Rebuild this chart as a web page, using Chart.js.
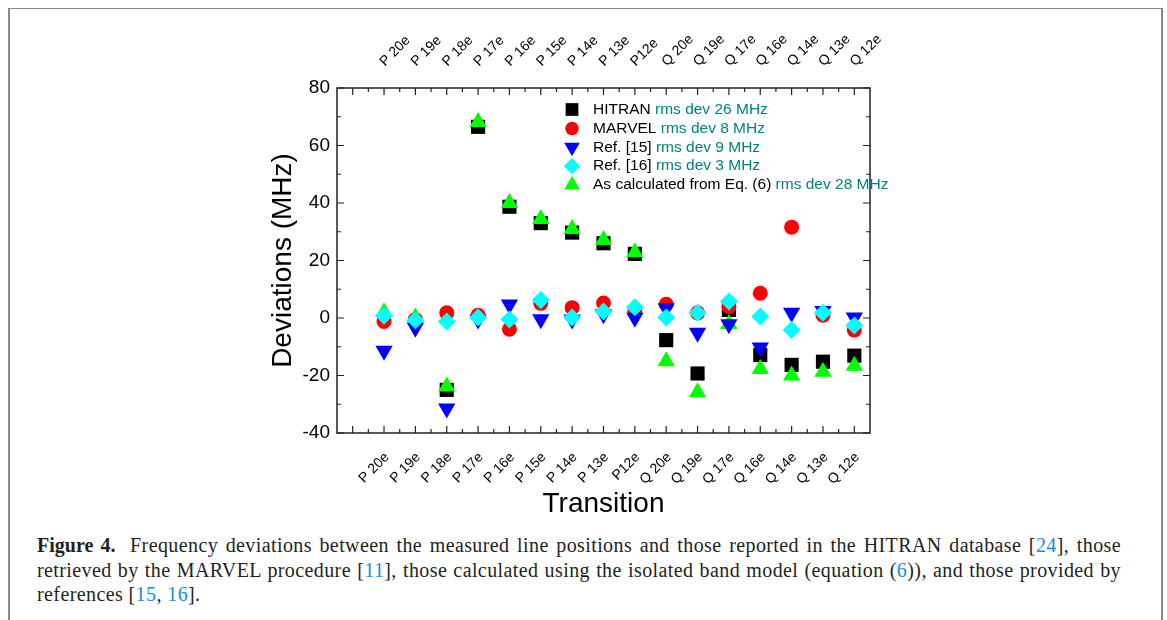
<!DOCTYPE html>
<html>
<head>
<meta charset="utf-8">
<script src="https://cdn.jsdelivr.net/npm/chart.js@4.4.1/dist/chart.umd.min.js"></script>
<style>
  body { margin: 0; background: #fff; width: 1167px; height: 620px; position: relative; overflow: hidden; }
  #frame { position: absolute; left: 8px; top: 8px; width: 1151px; height: 640px;
           border-top: 1px solid #888; border-left: 2px solid #888; border-right: 2px solid #888; }
  #wrap { position: absolute; left: 0; top: 0; width: 1167px; height: 525px; }
  #caption { position: absolute; left: 37px; top: 533px; width: 1084px; font-family: "Liberation Serif", serif;
             font-size: 20px; letter-spacing: 0.4px; line-height: 24.5px; color: #231f20; white-space: nowrap; }
  #caption .j { text-align: justify; text-align-last: justify; }
  #caption b { font-weight: bold; letter-spacing: 0; margin-right: 7px; }
  .ref { color: #1a8cd8; }
</style>
</head>
<body>
<div id="frame"></div>
<div id="wrap"><canvas id="chart" width="1167" height="525"></canvas></div>
<div id="caption">
  <div class="j"><b>Figure 4.</b> Frequency deviations between the measured line positions and those reported in the HITRAN database [<span class="ref">24</span>], those</div>
  <div class="j">retrieved by the MARVEL procedure [<span class="ref">11</span>], those calculated using the isolated band model (equation (<span class="ref">6</span>)), and those provided by</div>
  <div>references [<span class="ref">15</span>, <span class="ref">16</span>].</div>
</div>
<script>
const transitions = ['P 20e', 'P 19e', 'P 18e', 'P 17e', 'P 16e', 'P 15e', 'P 14e', 'P 13e', 'P12e',
                     'Q 20e', 'Q 19e', 'Q 17e', 'Q 16e', 'Q 14e', 'Q 13e', 'Q 12e'];
const hitran = [null, null, -25, 66.5, 38.7, 33, 29.7, 26, 22.3, -7.7, -19.3, 2.8, -12.9, -16.3, -15.2, -13.1];
const marvel = [-1.2, -0.5, 1.8, 1, -3.9, 5.1, 3.6, 5.2, 2.2, 4.8, 1.8, 3.9, 8.6, 31.6, 1, -4.2];
const ref15 = [-11.4, -3.4, -31.5, -0.5, 4.7, -0.4, -0.5, 1.3, 0.1, 3.4, -5.1, -2.2, -10.3, 1.8, 2.4, 0.2];
const ref16 = [0.8, -0.8, -1.2, 0.2, -0.5, 6.3, 0.2, 2.3, 3.7, 0.2, 1.8, 5.7, 0.5, -4.2, 1.8, -2.6];
const eq6 = [2, 0.2, -23.8, 68.2, 40, 34.4, 31, 27.1, 22.9, -15, -25.8, -2.1, -17.7, -20, -18.7, -16.6];
const yTicks = [-40, -20, 0, 20, 40, 60, 80];

const legendItems = [
  { name: 'HITRAN', rms: 'rms dev 26 MHz', color: '#000000', style: 'rect', radius: 10, rotation: 0 },
  { name: 'MARVEL', rms: 'rms dev 8 MHz', color: '#ff0000', style: 'circle', radius: 7.5, rotation: 0 },
  { name: 'Ref. [15]', rms: 'rms dev 9 MHz', color: '#0000ff', style: 'triangle', radius: 10, rotation: 180 },
  { name: 'Ref. [16]', rms: 'rms dev 3 MHz', color: '#00ffff', style: 'rectRot', radius: 9, rotation: 0 },
  { name: 'As calculated from Eq. (6)', rms: 'rms dev 28 MHz', color: '#00ff00', style: 'triangle', radius: 10, rotation: 0 }
];
const seriesValues = [hitran, marvel, ref15, ref16, eq6];
const drawOrder = [5, 4, 2, 1, 3];

const toPoints = (arr) => arr.map((v, i) => ({ x: i, y: v })).filter((p) => p.y !== null);

const datasets = legendItems.map((item, k) => ({
  label: item.name,
  data: toPoints(seriesValues[k]),
  pointStyle: item.style,
  pointRadius: item.radius,
  pointRotation: item.rotation,
  pointBackgroundColor: item.color,
  pointBorderColor: item.color,
  pointBorderWidth: 0,
  showLine: false,
  order: drawOrder[k]
}));

// frame with inward ticks, plus the two-colour legend
const boxPlugin = {
  id: 'box',
  afterDraw(chart) {
    const ctx = chart.ctx;
    const { left, right, top, bottom } = chart.chartArea;
    const xs = chart.scales.x;
    const ys = chart.scales.y;
    ctx.save();
    ctx.strokeStyle = '#222';
    ctx.lineWidth = 1.5;
    ctx.strokeRect(left, top, right - left, bottom - top);
    ctx.lineWidth = 1.2;
    ctx.beginPath();
    for (let v = -40; v <= 80; v += 10) {
      const y = ys.getPixelForValue(v);
      const len = v % 20 === 0 ? 7 : 4;
      ctx.moveTo(left, y); ctx.lineTo(left + len, y);
      ctx.moveTo(right, y); ctx.lineTo(right - len, y);
    }
    for (let i = -1; i <= 15; i += 0.5) {
      const x = xs.getPixelForValue(i);
      const len = Number.isInteger(i) ? 7 : 4;
      ctx.moveTo(x, bottom); ctx.lineTo(x, bottom - len);
      ctx.moveTo(x, top); ctx.lineTo(x, top + len);
    }
    ctx.stroke();

    // legend
    const lx = left + 235;
    const tx = left + 256;
    let ly = top + 21.5;
    ctx.font = '15.5px "Liberation Sans", Arial, sans-serif';
    ctx.textBaseline = 'middle';
    ctx.textAlign = 'left';
    legendItems.forEach((item) => {
      ctx.fillStyle = item.color;
      ctx.strokeStyle = item.color;
      Chart.helpers.drawPoint(ctx, { pointStyle: item.style, radius: item.radius * 0.9,
        rotation: item.rotation, borderWidth: 0 }, lx, ly);
      ctx.fillStyle = '#000';
      ctx.fillText(item.name + ' ', tx, ly);
      const w = ctx.measureText(item.name + ' ').width;
      ctx.fillStyle = '#008080';
      ctx.fillText(item.rms, tx + w, ly);
      ly += 18.9;
    });
    ctx.restore();
  }
};

const catTicks = (scale) => { scale.ticks = transitions.map((t, i) => ({ value: i })); };
const catLabel = (value) => transitions[value] ?? '';
const labelFont = { family: '"Liberation Sans", Arial, sans-serif', size: 14 };

new Chart(document.getElementById('chart').getContext('2d'), {
  type: 'scatter',
  data: { datasets },
  options: {
    responsive: false,
    animation: false,
    layout: { padding: { left: 262, right: 297, top: 0, bottom: 2 } },
    plugins: { legend: { display: false }, tooltip: { enabled: false } },
    scales: {
      x: {
        type: 'linear', position: 'bottom', min: -1.5, max: 15.5,
        afterBuildTicks: catTicks,
        afterFit: (s) => { s.height = 90; },
        grid: { display: false, drawTicks: false },
        border: { display: false },
        ticks: { callback: catLabel, autoSkip: false, minRotation: 45, maxRotation: 45,
                 padding: 16, labelOffset: 3, color: '#000', font: labelFont },
        title: { display: true, text: 'Transition', color: '#000',
                 font: { family: '"Liberation Sans", Arial, sans-serif', size: 28 }, padding: { top: 0, bottom: 2 } }
      },
      xTop: {
        type: 'linear', position: 'top', min: -1.5, max: 15.5,
        afterBuildTicks: catTicks,
        afterFit: (s) => { s.height = 88; },
        grid: { display: false, drawTicks: false },
        border: { display: false },
        ticks: { callback: catLabel, autoSkip: false, minRotation: 45, maxRotation: 45,
                 padding: 18, labelOffset: 10, color: '#000', font: labelFont }
      },
      y: {
        min: -40, max: 80,
        afterBuildTicks: (s) => { s.ticks = yTicks.map((v) => ({ value: v })); },
        afterFit: (s) => { s.width = 75; },
        grid: { display: false, drawTicks: false },
        border: { display: false },
        ticks: { padding: 7, color: '#000', font: { family: '"Liberation Sans", Arial, sans-serif', size: 19 } },
        title: { display: true, text: 'Deviations (MHz)', color: '#000',
                 font: { family: '"Liberation Sans", Arial, sans-serif', size: 28 }, padding: { top: 4, bottom: 0 } }
      }
    }
  },
  plugins: [boxPlugin]
});
</script>
</body>
</html>
